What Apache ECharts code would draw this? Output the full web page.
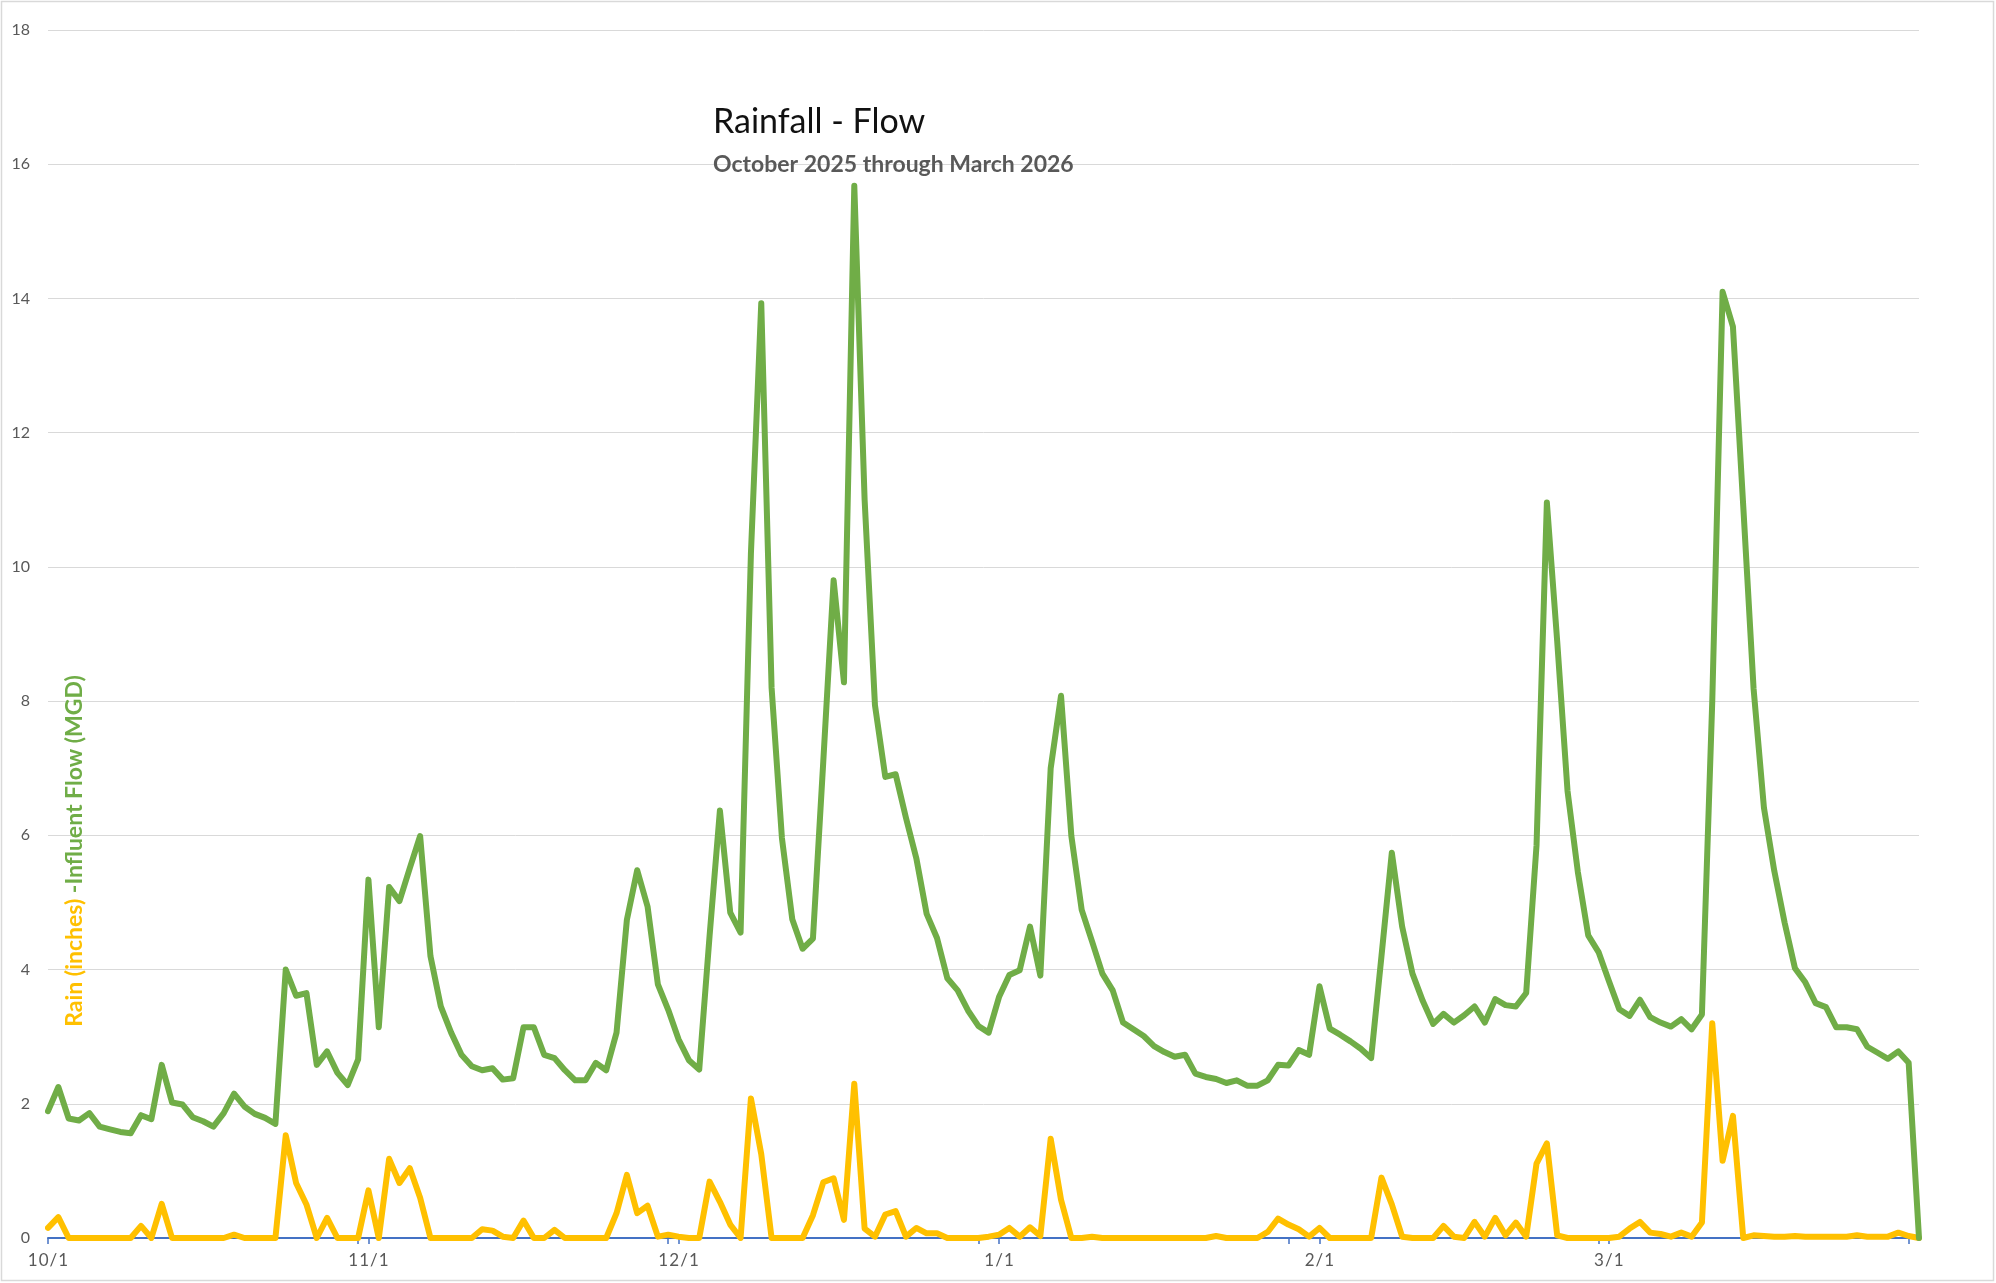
<!DOCTYPE html>
<html>
<head>
<meta charset="utf-8">
<title>Rainfall - Flow</title>
<script src="https://cdn.jsdelivr.net/npm/echarts@6/dist/echarts.min.js"></script>
<style>
  html, body { margin: 0; padding: 0; background: #ffffff; }
  #chart { width: 1996px; height: 1283px; }
</style>
</head>
<body>
<div id="chart"></div>
<script>
// Daily values, 10/1/2025 through 3/31/2026 (182 days)
const startDate = [2025, 9, 1];   // year, zero-based month, day
const dayCount = 182;

// Influent flow, MGD
const flowMGD = [
  1.89, 2.25, 1.78, 1.75, 1.86, 1.66, 1.62, 1.58, 1.56, 1.83,
  1.77, 2.58, 2.02, 1.99, 1.80, 1.74, 1.66, 1.86, 2.15, 1.96,
  1.85, 1.79, 1.70, 4.00, 3.61, 3.65, 2.58, 2.78, 2.46, 2.28,
  2.66, 5.34, 3.14, 5.23, 5.02, 5.51, 5.99, 4.20, 3.45, 3.06,
  2.73, 2.56, 2.50, 2.53, 2.36, 2.38, 3.14, 3.14, 2.73, 2.68,
  2.50, 2.35, 2.35, 2.61, 2.50, 3.06, 4.74, 5.48, 4.94, 3.78,
  3.40, 2.96, 2.65, 2.51, 4.50, 6.37, 4.85, 4.55, 10.20, 13.93,
  8.20, 5.96, 4.75, 4.31, 4.46, 7.10, 9.80, 8.28, 15.68, 11.00,
  7.94, 6.87, 6.91, 6.26, 5.66, 4.83, 4.47, 3.87, 3.69, 3.39,
  3.16, 3.06, 3.59, 3.92, 3.99, 4.64, 3.91, 7.00, 8.08, 5.99,
  4.89, 4.42, 3.94, 3.69, 3.21, 3.11, 3.01, 2.86, 2.77, 2.70,
  2.73, 2.45, 2.40, 2.37, 2.31, 2.35, 2.27, 2.27, 2.35, 2.58,
  2.57, 2.80, 2.73, 3.75, 3.12, 3.03, 2.93, 2.82, 2.68, 4.20,
  5.74, 4.64, 3.94, 3.53, 3.19, 3.34, 3.21, 3.32, 3.45, 3.21,
  3.56, 3.47, 3.45, 3.65, 5.85, 10.96, 8.89, 6.66, 5.45, 4.51,
  4.26, 3.83, 3.41, 3.31, 3.55, 3.29, 3.21, 3.15, 3.26, 3.11,
  3.33, 8.00, 14.10, 13.58, 10.90, 8.18, 6.41, 5.47, 4.70, 4.02,
  3.81, 3.50, 3.44, 3.14, 3.14, 3.11, 2.85, 2.76, 2.67, 2.78,
  2.61, 0
];

// Rainfall, inches
const rainInches = [
  0.15, 0.31, 0, 0, 0, 0, 0, 0, 0, 0.18,
  0, 0.51, 0, 0, 0, 0, 0, 0, 0.05, 0,
  0, 0, 0, 1.53, 0.82, 0.50, 0, 0.30, 0, 0,
  0, 0.71, 0, 1.18, 0.82, 1.04, 0.60, 0, 0, 0,
  0, 0, 0.13, 0.11, 0.02, 0, 0.26, 0, 0, 0.12,
  0, 0, 0, 0, 0, 0.37, 0.94, 0.37, 0.48, 0.02,
  0.05, 0.02, 0, 0, 0.84, 0.54, 0.20, 0, 2.08, 1.25,
  0, 0, 0, 0, 0.34, 0.83, 0.89, 0.27, 2.30, 0.14,
  0.02, 0.35, 0.40, 0.02, 0.15, 0.07, 0.07, 0, 0, 0,
  0, 0.02, 0.05, 0.15, 0.02, 0.16, 0.03, 1.48, 0.57, 0,
  0, 0.02, 0, 0, 0, 0, 0, 0, 0, 0,
  0, 0, 0, 0.03, 0, 0, 0, 0, 0.09, 0.29,
  0.20, 0.13, 0.02, 0.15, 0, 0, 0, 0, 0, 0.90,
  0.50, 0.02, 0, 0, 0, 0.18, 0.02, 0, 0.24, 0.02,
  0.30, 0.04, 0.23, 0.02, 1.11, 1.41, 0.04, 0, 0, 0,
  0, 0, 0.02, 0.14, 0.24, 0.08, 0.06, 0.02, 0.08, 0.02,
  0.23, 3.20, 1.15, 1.82, 0, 0.04, 0.03, 0.02, 0.02, 0.03,
  0.02, 0.02, 0.02, 0.02, 0.02, 0.04, 0.02, 0.02, 0.02, 0.08,
  0.03, 0
];

// Value axis ticks
const yTicks = [0, 2, 4, 6, 8, 10, 12, 14, 16, 18];

const titleText = 'Rainfall - Flow';
const subtitleText = 'October 2025 through March 2026';
const rainLabel = 'Rain (inches)';
const flowLabel = '-Influent Flow (MGD)';

// Build "M/D" category labels, one per day
const categories = [];
for (let k = 0; k < dayCount; k++) {
  const d = new Date(startDate[0], startDate[1], startDate[2] + k);
  categories.push((d.getMonth() + 1) + '/' + d.getDate());
}
const isMonthStart = (idx) => /\/1$/.test(categories[idx]);

const FONT = 'Lato, "Open Sans", "Noto Sans", sans-serif';
const GREEN = '#70AD47';
const GOLD = '#FFC000';
const TEXT_GRAY = '#595959';

const chart = echarts.init(document.getElementById('chart'), null, { renderer: 'canvas' });

chart.setOption({
  animation: false,
  backgroundColor: '#ffffff',
  textStyle: { fontFamily: FONT },
  title: {
    text: titleText,
    subtext: subtitleText,
    left: 713,
    top: 105,
    padding: 0,
    itemGap: 13,
    textStyle: {
      fontFamily: FONT, fontSize: 34, fontWeight: 'normal',
      color: '#111111', lineHeight: 35
    },
    subtextStyle: {
      fontFamily: FONT, fontSize: 23, fontWeight: 'bold',
      color: TEXT_GRAY, lineHeight: 24
    }
  },
  grid: { left: 48, right: 77, top: 30, bottom: 45, containLabel: false },
  xAxis: {
    type: 'category',
    data: categories,
    boundaryGap: false,
    axisLine: { show: true, lineStyle: { color: '#4472C4', width: 2 } },
    axisTick: {
      show: true,
      length: 6,
      lineStyle: { color: '#4472C4', width: 1.5 },
      interval: (idx) => idx % 30 === 0 || isMonthStart(idx)
    },
    axisLabel: {
      interval: (idx) => isMonthStart(idx),
      margin: 14,
      color: TEXT_GRAY,
      fontSize: 17,
      fontFamily: FONT,
      formatter: (v) => v.split('').join('\u200A')
    },
    splitLine: { show: false }
  },
  yAxis: {
    type: 'value',
    min: yTicks[0],
    max: yTicks[yTicks.length - 1],
    interval: yTicks[1] - yTicks[0],
    axisLine: { show: false },
    axisTick: { show: false },
    axisLabel: { color: TEXT_GRAY, fontSize: 16, margin: 18, fontFamily: FONT },
    splitLine: { lineStyle: { color: '#D9D9D9', width: 1 } }
  },
  series: [
    {
      name: rainLabel,
      type: 'line',
      data: rainInches,
      symbol: 'none',
      lineStyle: { color: GOLD, width: 6, join: 'round', cap: 'round' },
      itemStyle: { color: GOLD },
      z: 3
    },
    {
      name: flowLabel,
      type: 'line',
      data: flowMGD,
      symbol: 'none',
      lineStyle: { color: GREEN, width: 6, join: 'round', cap: 'round' },
      itemStyle: { color: GREEN },
      z: 4
    }
  ],
  graphic: [
    {
      // outer chart frame
      type: 'rect',
      silent: true,
      shape: { x: 1.5, y: 1.5, width: 1992, height: 1279 },
      style: { fill: null, stroke: '#D9D9D9', lineWidth: 1.5 },
      z: -10
    },
    {
      // two-colour vertical axis caption
      type: 'text',
      x: 75,
      y: 851,
      rotation: Math.PI / 2,
      style: {
        text: '{r|' + rainLabel + '} {f|' + flowLabel + '}',
        align: 'center',
        verticalAlign: 'middle',
        font: 'bold 23px ' + FONT,
        rich: {
          r: { fill: GOLD, fontWeight: 'bold', fontSize: 23, fontFamily: FONT },
          f: { fill: GREEN, fontWeight: 'bold', fontSize: 23, fontFamily: FONT }
        }
      },
      z: 10
    }
  ]
});
</script>
</body>
</html>
